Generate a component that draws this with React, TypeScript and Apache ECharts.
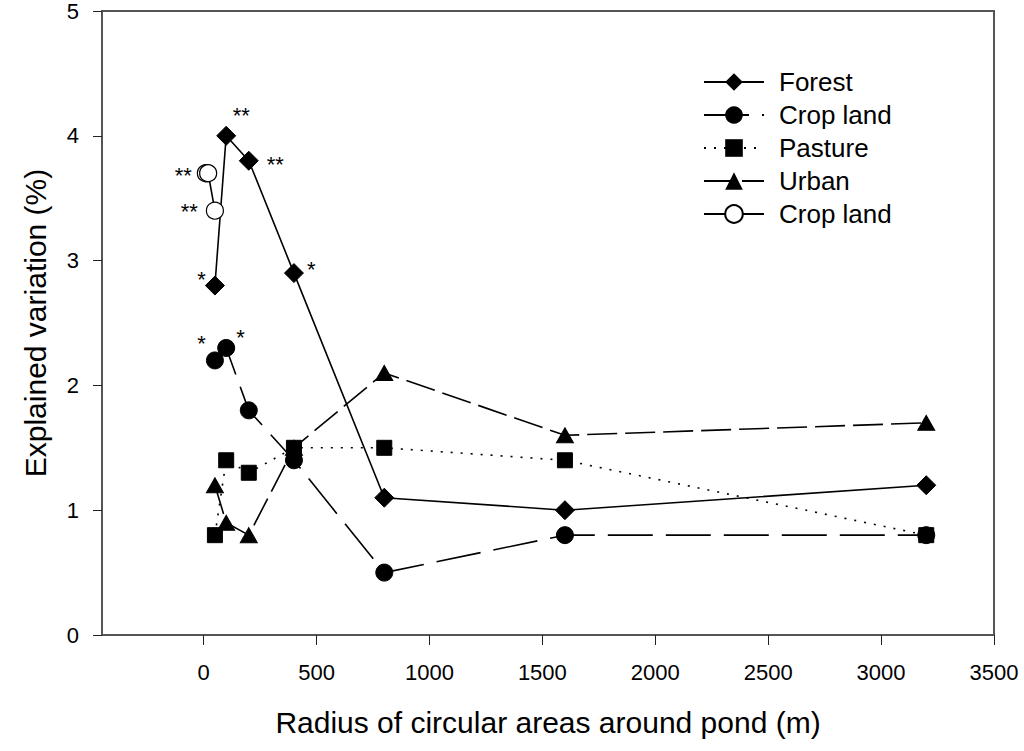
import React, { useEffect, useRef } from "react";
import * as echarts from "echarts";

const radius = [50, 100, 200, 400, 800, 1600, 3200];
const forest = [2.8, 4.0, 3.8, 2.9, 1.1, 1.0, 1.2];
const cropLand = [2.2, 2.3, 1.8, 1.4, 0.5, 0.8, 0.8];
const pasture = [0.8, 1.4, 1.3, 1.5, 1.5, 1.4, 0.8];
const urban = [1.2, 0.9, 0.8, 1.5, 2.1, 1.6, 1.7];
const cropOpenX = [10, 20, 50];
const cropOpen = [3.7, 3.7, 3.4];

const forestStars = ["*", "**", "**", "*", "", "", ""];
const cropStars = ["*", "*", "", "", "", "", ""];
const cropOpenStars = ["**", "", "**"];

const xTicks = [0, 500, 1000, 1500, 2000, 2500, 3000, 3500];

const FONT = "'Liberation Sans', Arial, Helvetica, sans-serif";

type LabelPos = { position: string; offset: number[] };

const forestLabelPos: LabelPos[] = [
  { position: "left", offset: [6, -6] },
  { position: "top", offset: [15, 6] },
  { position: "right", offset: [3, 4] },
  { position: "right", offset: [-2, -4] },
];
const cropLabelPos: LabelPos[] = [
  { position: "left", offset: [5, -17] },
  { position: "right", offset: [-4, -10] },
];
const cropOpenLabelPos: LabelPos[] = [
  { position: "left", offset: [0, 2] },
  { position: "left", offset: [0, 0] },
  { position: "left", offset: [-3, 1] },
];

function withStars(xs: number[], ys: number[], stars: string[], pos: LabelPos[]) {
  return xs.map((x, i) => {
    const s = stars[i];
    if (!s) return [x, ys[i]];
    return {
      value: [x, ys[i]],
      label: {
        show: true,
        formatter: s,
        position: pos[i].position,
        offset: pos[i].offset,
        distance: 5,
        fontSize: 22,
        color: "#000",
        fontFamily: FONT,
      },
    };
  });
}

export default function App() {
  const ref = useRef<HTMLDivElement>(null);
  useEffect(() => {
    if (!ref.current) return;
    const chart = echarts.init(ref.current, undefined, { renderer: "svg" });
    const axisColor = "#555";
    chart.setOption({
      animation: false,
      backgroundColor: "#fff",
      textStyle: { fontFamily: FONT, color: "#000" },
      grid: {
        left: 102,
        right: 30,
        top: 11,
        bottom: 116,
        show: true,
        borderColor: axisColor,
        borderWidth: 2,
        backgroundColor: "transparent",
      },
      legend: {
        orient: "vertical",
        left: 698,
        top: 64,
        itemWidth: 60,
        itemHeight: 22,
        itemGap: 7,
        data: ["Forest", "Crop land", "Pasture", "Urban", "Crop land "],
        formatter: (n: string) => n.trim(),
        textStyle: {
          fontSize: 26,
          lineHeight: 26,
          color: "#000",
          fontFamily: FONT,
          padding: [0, 0, 0, 10],
        },
      },
      xAxis: {
        type: "value",
        min: -450,
        max: 3500,
        name: "Radius of circular areas around pond (m)",
        nameLocation: "middle",
        nameGap: 72,
        nameTextStyle: { fontSize: 30, color: "#000", fontFamily: FONT },
        axisLine: { show: true, onZero: false, lineStyle: { color: axisColor, width: 2 } },
        axisTick: {
          show: true,
          length: 10,
          inside: false,
          customValues: xTicks,
          lineStyle: { color: "#222", width: 1 },
        },
        axisLabel: {
          customValues: xTicks,
          fontSize: 22,
          color: "#000",
          margin: 26,
          fontFamily: FONT,
          formatter: (v: number) => String(v),
        },
        splitLine: { show: false },
      },
      yAxis: {
        type: "value",
        min: 0,
        max: 5,
        interval: 1,
        name: "Explained variation (%)",
        nameLocation: "middle",
        nameGap: 52,
        nameTextStyle: { fontSize: 30, color: "#000", fontFamily: FONT },
        axisLine: { show: true, onZero: false, lineStyle: { color: axisColor, width: 2 } },
        axisTick: { show: true, length: 9, inside: false, lineStyle: { color: "#222", width: 1 } },
        axisLabel: { fontSize: 22, color: "#000", margin: 23, fontFamily: FONT },
        splitLine: { show: false },
      },
      series: [
        {
          name: "Forest",
          type: "line",
          data: withStars(radius, forest, forestStars, forestLabelPos),
          symbol: "diamond",
          symbolSize: 19,
          itemStyle: { color: "#000", borderColor: "#000" },
          lineStyle: { color: "#000", width: 1.6, type: "solid" },
          z: 3,
        },
        {
          name: "Urban",
          type: "line",
          data: radius.map((x, i) => [x, urban[i]]),
          symbol: "triangle",
          symbolSize: [17, 15],
          itemStyle: { color: "#000", borderColor: "#000" },
          lineStyle: { color: "#000", width: 1.6, type: [30, 8] },
          z: 2,
        },
        {
          name: "Crop land",
          type: "line",
          data: withStars(radius, cropLand, cropStars, cropLabelPos),
          symbol: "circle",
          symbolSize: 17,
          itemStyle: { color: "#000", borderColor: "#000" },
          lineStyle: { color: "#000", width: 1.6, type: [45, 13] },
          z: 2,
        },
        {
          name: "Pasture",
          type: "line",
          data: radius.map((x, i) => [x, pasture[i]]),
          symbol: "rect",
          symbolSize: 15,
          itemStyle: { color: "#000", borderColor: "#000" },
          lineStyle: { color: "#000", width: 1.6, type: [2, 8] },
          z: 4,
        },
        {
          name: "Crop land ",
          type: "line",
          data: withStars(cropOpenX, cropOpen, cropOpenStars, cropOpenLabelPos),
          symbol: "circle",
          symbolSize: 17,
          itemStyle: { color: "#fff", borderColor: "#000", borderWidth: 1.2 },
          lineStyle: { color: "#000", width: 1.6, type: "solid" },
          z: 5,
        },
      ],
    });
    return () => chart.dispose();
  }, []);
  return (
    <div
      ref={ref}
      style={{ position: "absolute", left: 0, top: 0, width: 1024, height: 751 }}
    />
  );
}
